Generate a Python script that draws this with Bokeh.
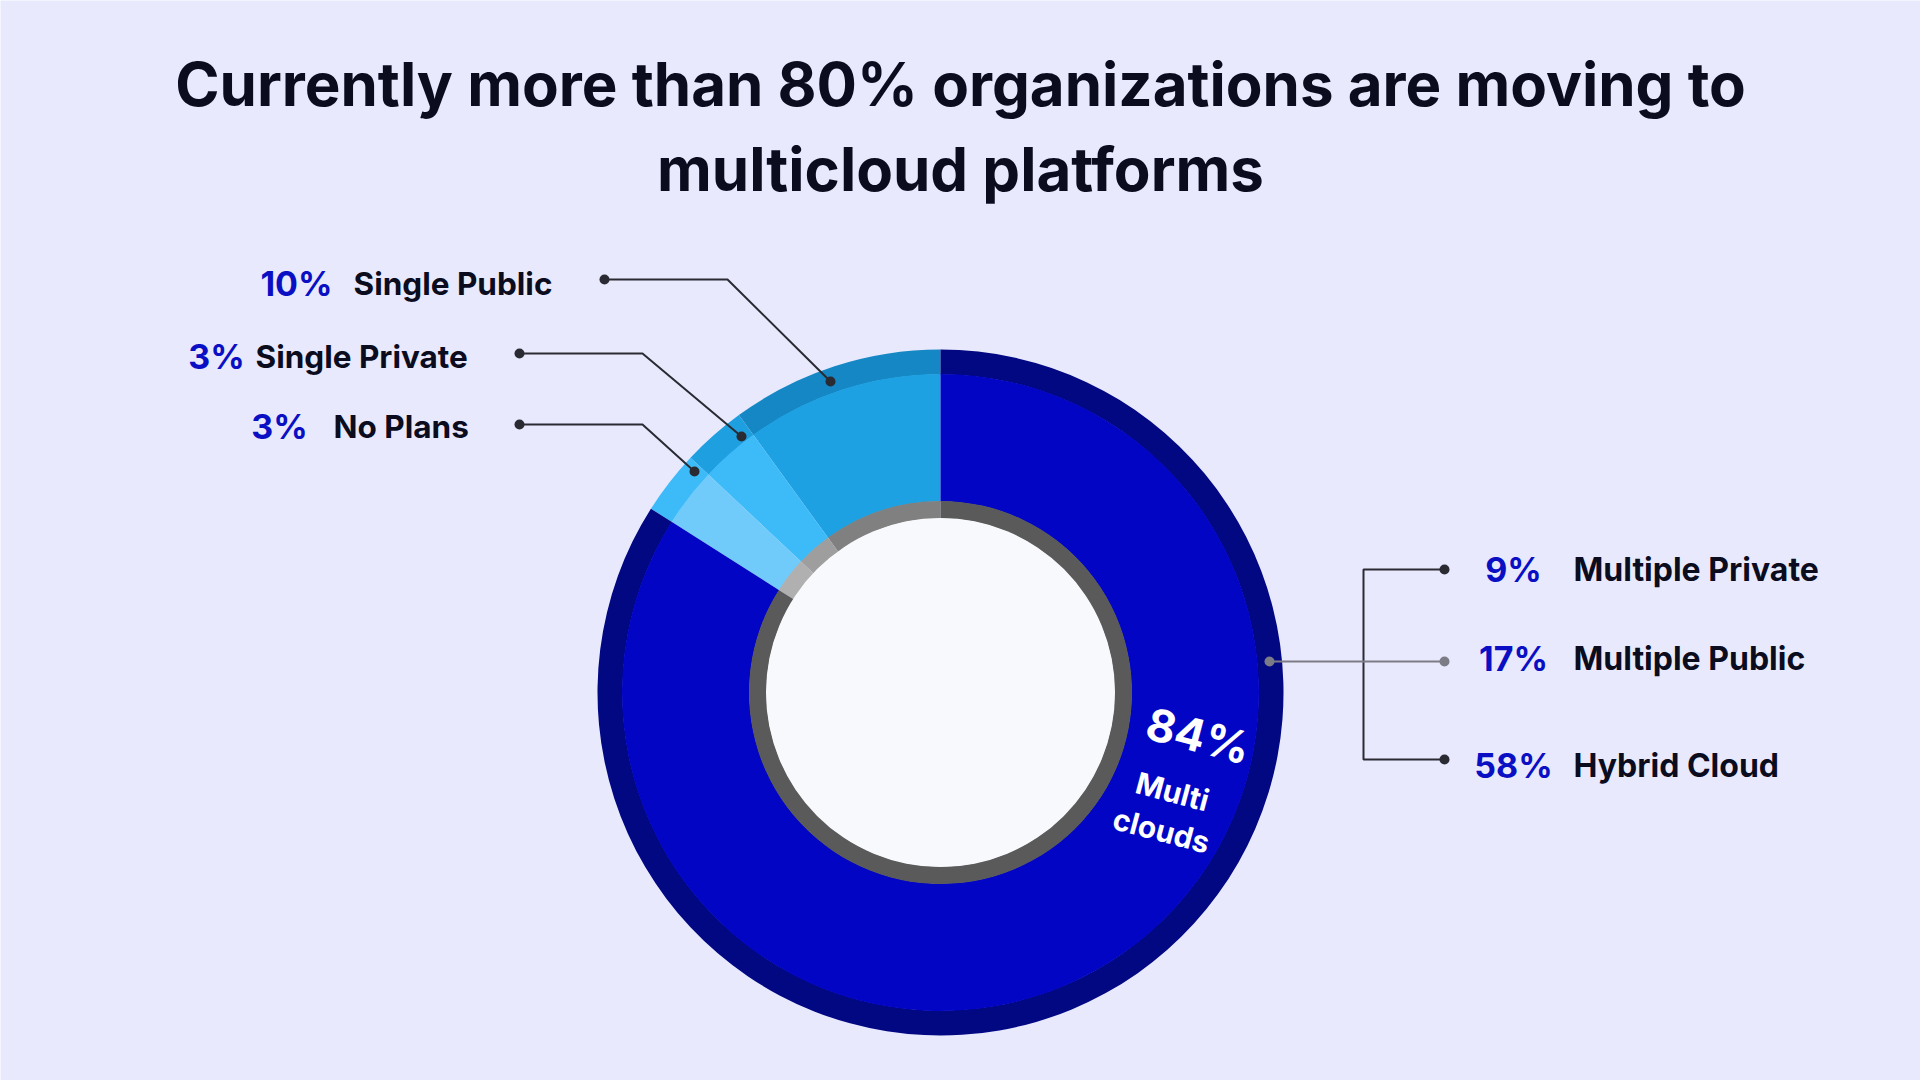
import numpy as np
from bokeh.plotting import figure
from bokeh.models import Range1d
from bokeh.embed import file_html
from bokeh.resources import INLINE
from bokeh.core.properties import value

# ---------------- data ----------------
title_lines = ["Currently more than 80% organizations are moving to", "multicloud platforms"]
categories = ["Single Public", "Single Private", "No Plans", "Multi clouds"]
shares = [10, 3, 3, 84]
multi_categories = ["Multiple Private", "Multiple Public", "Hybrid Cloud"]
multi_shares = [9, 17, 58]

# ---------------- style ----------------
BG = "#E8E9FD"
band_colors = ["#1587C4", "#1E9FE0", "#3DBBF8", "#020782"]
main_colors = ["#1DA1E2", "#3DBBF8", "#70CBFA", "#0206C4"]
gray_colors = ["#808080", "#9E9E9E", "#B0B0B0", "#5A5A5A"]
PCT = "#0A0FC4"
INK = "#0B0C1E"
LINE = "#2A2A33"
FONT = "Inter"

W, H = 1920, 1080
p = figure(width=W, height=H, x_range=Range1d(0, W), y_range=Range1d(0, H),
           output_backend="svg", toolbar_location=None, min_border=0)
p.axis.visible = False
p.grid.visible = False
p.outline_line_color = None
p.background_fill_color = BG
p.border_fill_color = BG


def Y(y):
    return H - y


cx, cy = 940, Y(692)
frac = np.array(shares, dtype=float) / sum(shares)
ends = np.pi / 2 + 2 * np.pi * np.cumsum(frac)
starts = ends - 2 * np.pi * frac

p.annular_wedge(x=cx, y=cy, inner_radius=318, outer_radius=343,
                start_angle=starts, end_angle=ends, fill_color=band_colors, line_color=None)
p.annular_wedge(x=cx, y=cy, inner_radius=191, outer_radius=318.5,
                start_angle=starts, end_angle=ends, fill_color=main_colors, line_color=None)
p.annular_wedge(x=cx, y=cy, inner_radius=174, outer_radius=191.5,
                start_angle=starts, end_angle=ends, fill_color=gray_colors, line_color=None)
p.circle(x=cx, y=cy, radius=174.5, fill_color="#F8F9FC", line_color=None)

# ---------------- title ----------------
p.text(x=[960, 960], y=[Y(83), Y(168)], text=title_lines, text_align="center",
       text_baseline="middle", text_font=value(FONT), text_font_style="bold",
       text_font_size="60px", text_color=INK)

# ---------------- left labels ----------------
left_pct_x = [296, 216, 279]
left_lab_x = [353, 255, 333]
left_y = [283, 356, 426]
p.text(x=left_pct_x, y=[Y(v) for v in left_y], text=[f"{s}%" for s in shares[:3]],
       text_align="center", text_baseline="middle", text_font=value(FONT),
       text_font_style="bold", text_font_size="34px", text_color=PCT)
p.text(x=left_lab_x, y=[Y(v) for v in left_y], text=categories[:3],
       text_align="left", text_baseline="middle", text_font=value(FONT),
       text_font_style="bold", text_font_size="31.5px", text_color=INK)

# leader lines (start dot, elbow, end dot on the ring)
leaders = [((604, 279), (727, 279), (830, 381)),
           ((519, 353), (642, 353), (741, 436)),
           ((519, 424), (642, 424), (694, 471))]
for a, b, c in leaders:
    p.line(x=[a[0], b[0], c[0]], y=[Y(a[1]), Y(b[1]), Y(c[1])], line_color=LINE, line_width=2)
    p.scatter(x=[a[0], c[0]], y=[Y(a[1]), Y(c[1])], size=10, fill_color=LINE, line_color=None)

# ---------------- right labels ----------------
right_y = [569, 658, 765]
p.text(x=[1513] * 3, y=[Y(v) for v in right_y], text=[f"{s}%" for s in multi_shares],
       text_align="center", text_baseline="middle", text_font=value(FONT),
       text_font_style="bold", text_font_size="34px", text_color=PCT)
p.text(x=[1573] * 3, y=[Y(v) for v in right_y], text=multi_categories,
       text_align="left", text_baseline="middle", text_font=value(FONT),
       text_font_style="bold", text_font_size="32px", text_color=INK)

# bracket
p.line(x=[1444, 1363, 1363, 1444], y=[Y(569), Y(569), Y(759), Y(759)], line_color=LINE, line_width=2)
p.scatter(x=[1444, 1444], y=[Y(569), Y(759)], size=10, fill_color=LINE, line_color=None)
p.line(x=[1269, 1444], y=[Y(661), Y(661)], line_color="#7C7C86", line_width=2)
p.scatter(x=[1269, 1444], y=[Y(661), Y(661)], size=10, fill_color="#7C7C86", line_color=None)

# ---------------- center labels ----------------
rot = -0.26
p.text(x=[1198], y=[Y(735)], text=[f"{shares[3]}%"], angle=rot, text_align="center",
       text_baseline="middle", text_font=value(FONT), text_font_style="bold",
       text_font_size="45px", text_color="white")
p.text(x=[1172, 1161], y=[Y(791), Y(830)], text=categories[3].split(" "), angle=rot,
       text_align="center", text_baseline="middle", text_font=value(FONT),
       text_font_style="bold", text_font_size="30px", text_color="white")

open("out.html", "w").write(file_html(p, INLINE))
